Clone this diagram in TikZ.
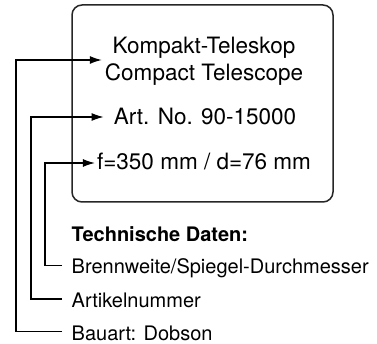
\documentclass[tikz,border=0pt]{standalone}
\usepackage{fontspec}
\setmainfont{TeX Gyre Heros}
\usetikzlibrary{arrows.meta}
\begin{document}
\begin{tikzpicture}[x=1pt,y=-1pt,
  frame/.style={draw=black!85,line width=1.5pt,rounded corners=10pt,minimum width=261pt,minimum height=197pt,inner sep=0pt},
  boxtxt/.style={font=\fontsize{22.5pt}{27pt}\selectfont,inner ysep=0pt,text height=16pt,text depth=0pt},
  lab/.style={font=\fontsize{20pt}{24pt}\selectfont,anchor=west,inner ysep=0pt,inner xsep=9.5pt,text height=17pt,text depth=0pt},
  conn/.style={draw=black,line width=1.2pt},
  arr/.style={conn,-{Latex[length=12pt,width=8pt]}}]
\useasboundingbox (0,0) rectangle (377,344);
\node[frame] (box) at (202.5,103.5) {};
\node[font=\fontsize{22.5pt}{27pt}\selectfont,align=center,inner ysep=0pt,inner xsep=3pt] (kompakt) at (204,61.5) {Kompakt-Teleskop\\Compact Telescope};
\node[boxtxt,inner xsep=10pt] (artno) at (205,117) {Art. No. 90-15000};
\node[boxtxt,inner xsep=2pt] (focal) at (204,162) {f=350 mm / d=76 mm};
\node[lab,font=\bfseries\fontsize{20pt}{24pt}\selectfont] (tech) at (62,233) {Technische Daten:};
\node[lab] (brenn) at (62,265.5) {Brennweite/Spiegel-Durchmesser};
\node[lab] (artikel) at (62,299) {Artikelnummer};
\node[lab] (bauart) at (62,331.5) {Bauart: Dobson};
\coordinate (c1) at (16,60);
\coordinate (c2) at (31,117);
\coordinate (c3) at (45,163);
\draw[arr] (bauart.west) -| (c1) -- (c1 -| kompakt.west);
\draw[arr] (artikel.west) -| (c2) -- (c2 -| artno.west);
\draw[arr] (brenn.west) -| (c3) -- (c3 -| focal.west);
\end{tikzpicture}
\end{document}
